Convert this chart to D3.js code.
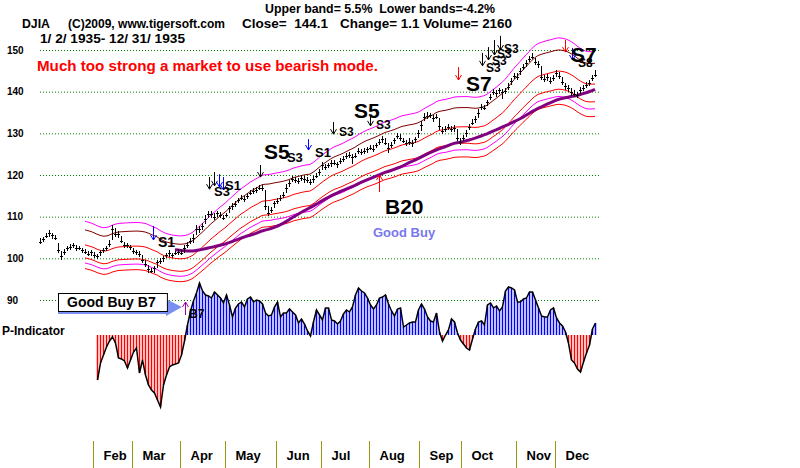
<!DOCTYPE html>
<html>
<head>
<meta charset="utf-8">
<script src="https://cdn.jsdelivr.net/npm/d3@7"></script>
<style>
  body { margin: 0; background: #fff; }
  svg { display: block; font-family: "Liberation Sans", Arial, sans-serif; font-weight: bold; }
</style>
</head>
<body>
<svg id="chart" width="800" height="468"></svg>
<script>
// ── Data (DJIA 1935, one point per bar) ──
const closes = [
  104.0,104.6,105.3,106.0,105.5,105.0,102.0,100.5,101.6,102.4,
  102.8,103.2,102.6,102.4,102.0,101.6,101.0,101.4,100.8,100.5,
  101.4,102.0,102.4,103.5,107.0,105.8,105.8,104.2,103.2,103.1,
  102.7,101.8,101.5,101.0,99.6,98.7,97.5,97.0,97.6,99.2,
  99.3,100.0,100.7,101.2,100.8,101.3,101.5,101.3,102.6,103.2,
  104.2,105.0,107.0,107.0,107.8,109.5,110.6,110.6,110.0,110.8,
  110.5,109.8,110.5,112.0,112.5,113.0,114.0,114.5,114.2,115.0,
  115.8,116.2,116.5,117.0,116.8,112.5,111.0,111.5,113.2,113.8,
  114.5,115.2,117.0,118.0,119.0,118.9,118.5,119.3,119.0,118.7,
  118.4,119.0,119.8,120.8,122.3,122.0,122.3,122.8,123.0,122.6,
  123.3,123.9,124.5,124.8,124.2,124.6,125.8,125.5,125.7,126.2,
  126.5,126.3,127.2,128.0,128.6,127.8,126.6,127.3,128.3,129.3,
  129.0,128.2,127.8,128.0,127.6,128.6,130.0,132.0,134.0,134.2,
  134.3,133.6,134.0,131.8,130.6,131.0,131.6,131.0,131.2,129.0,
  128.0,128.8,130.2,131.6,132.6,133.4,135.0,136.3,136.2,137.4,
  138.7,139.8,139.6,140.3,139.8,140.2,141.2,142.6,143.8,143.6,
  145.0,145.8,146.8,147.8,148.4,147.2,146.6,143.6,143.1,143.4,
  142.6,143.2,144.4,143.8,142.4,141.4,140.8,140.0,139.5,139.2,
  140.3,140.9,141.6,142.2,143.2,144.1
];

// how far each bar reaches above / below its close
const barUp = [
  0.8,0.6,0.9,0.7,0.6,0.5,1.8,1.2,0.6,0.5,
  0.6,0.5,0.7,0.6,0.5,0.6,0.8,0.5,0.7,0.6,
  0.5,0.6,0.5,0.9,1.0,1.4,0.8,1.2,0.7,0.6,
  0.5,0.8,0.6,0.7,1.2,0.9,0.8,0.7,0.6,0.5,
  0.8,0.6,0.5,0.7,0.6,0.5,0.7,0.6,0.5,0.7,
  0.6,0.8,0.9,0.7,0.8,0.9,0.7,0.8,0.9,0.6,
  0.7,0.6,0.5,0.6,0.8,0.7,0.6,0.8,0.7,0.6,
  0.7,0.8,0.6,0.7,0.8,4.0,1.5,0.9,0.6,0.7,
  0.6,0.8,0.9,0.7,0.8,0.6,0.9,0.6,0.7,0.8,
  0.6,0.7,0.8,0.6,0.9,0.7,0.6,0.8,0.7,0.6,
  0.8,0.6,0.7,0.8,0.9,0.7,0.6,0.8,0.7,0.6,
  0.7,0.8,0.6,0.7,0.8,1.0,1.2,0.7,0.6,0.8,
  0.9,0.7,0.6,0.8,0.7,0.6,0.8,0.9,0.8,0.9,
  0.7,0.8,0.7,2.0,1.0,0.8,0.7,0.8,0.9,2.0,
  0.9,0.8,0.7,0.6,0.8,0.7,0.9,0.8,0.7,0.6,
  0.8,0.9,0.7,0.6,0.8,0.7,0.9,0.6,0.8,0.9,
  0.7,0.8,0.9,0.8,0.9,1.0,0.8,2.5,1.0,0.8,
  0.9,0.8,0.7,0.9,1.2,0.8,0.7,0.8,0.9,0.7,
  0.8,0.7,0.8,0.6,0.9,1.0
];
const barDn = [
  0.6,0.7,0.5,0.8,0.9,0.7,0.6,0.8,0.9,0.6,
  0.7,0.6,0.8,0.5,0.7,0.6,0.5,0.8,0.6,0.7,
  0.8,0.6,0.7,0.8,2.5,0.7,0.9,0.6,0.8,0.7,
  0.6,0.7,0.8,0.6,0.7,0.8,0.9,0.6,1.0,1.4,
  0.7,0.8,0.6,0.9,0.7,0.6,0.8,0.6,1.2,0.7,
  0.8,1.2,1.5,0.8,0.9,1.2,0.9,0.8,0.7,0.9,
  0.8,0.7,0.6,1.0,0.8,0.7,0.8,0.6,0.7,0.8,
  0.6,0.7,0.8,0.6,0.7,0.9,0.8,0.6,1.0,0.7,
  0.8,0.6,1.2,0.8,0.7,0.8,0.6,0.7,0.8,0.6,
  0.7,0.8,0.6,0.9,1.0,0.7,0.6,0.8,0.7,0.9,
  0.7,0.8,0.6,0.7,1.5,0.6,0.8,0.7,0.6,0.8,
  0.6,0.7,0.8,0.9,0.8,0.7,1.2,0.8,0.9,0.7,
  0.8,0.6,0.9,0.7,0.8,0.9,1.2,1.5,1.0,0.8,
  0.7,0.8,0.6,0.9,0.8,0.7,0.8,0.6,0.9,0.8,
  0.9,0.7,1.0,0.8,0.7,0.9,1.2,0.8,0.7,0.9,
  0.8,0.7,0.8,0.9,1.5,0.7,0.8,0.9,0.7,0.8,
  0.9,0.7,0.8,0.7,0.6,0.8,0.9,0.7,0.8,0.9,
  0.8,0.7,0.9,0.8,0.7,0.9,0.8,1.0,0.7,0.8,
  0.9,0.7,0.6,0.8,0.7,0.6
];

// P-Indicator, same bars (null before it starts)
const pInd = [
  null,null,null,null,null,null,null,null,null,null,
  null,null,null,null,null,null,null,null,null,-45,
  -28,-20,-12,-6,-2,-8,-23,-24,-26,-33,
  -25,-17,-13,-38,-25,-40,-50,-55,-58,-65,
  -72,-50,-40,-32,-30,-29,-28,-20,-6,10,
  24,34,42,52,44,40,39,37,43,40,
  37,32,40,30,18,27,31,33,28,36,
  38,33,35,34,31,22,19,20,28,33,
  18,22,22,26,23,20,12,16,11,4,
  -1,13,25,20,15,27,27,15,14,11,
  14,21,25,23,28,40,47,44,42,37,
  30,26,30,37,38,40,31,24,19,26,
  27,8,10,12,13,13,25,31,26,18,
  14,13,22,3,-6,0,5,16,13,2,
  -5,-9,-13,-15,-4,6,13,14,10,30,
  32,27,29,24,28,44,48,47,45,33,
  33,36,37,43,43,35,27,19,18,18,
  25,27,17,12,9,3,-8,-25,-28,-34,
  -37,-27,-18,-10,6,12
];

const priceTicks = [90, 100, 110, 120, 130, 140, 150];
const monthNames = ['Feb','Mar','Apr','May','Jun','Jul','Aug','Sep','Oct','Nov','Dec'];
const monthStart = [18, 31, 47, 62, 79, 94, 110, 127, 141, 159, 172];

const shortWin = 16;   // 21-day average, in bars
const longWin = 46;    // 65-day average, in bars
const bandLevels = [0.945, 0.958, 0.97, 1.0, 1.035, 1.055];
const bandColors = ['#ff0000', '#ff00ff', '#ff0000', '#ff0000', '#800000', '#ff00ff'];

// signals: [bar, price, label, size]
const signalTexts = [
  [39.3, 102.7, 'S1', 14], [58, 115.0, 'S3', 13], [61.7, 116.4, 'S1', 13],
  [74.7, 123.8, 'S5', 21], [82.3, 123.1, 'S3', 13], [91.7, 124.3, 'S1', 13],
  [99.7, 129.4, 'S3', 12], [104.7, 133.7, 'S5', 21], [112, 131.0, 'S3', 12],
  [142, 140.2, 'S7', 21], [148.7, 144.7, 'S3', 12], [150.7, 146.4, 'S3', 12],
  [152.3, 148.1, 'S3', 12], [154.7, 149.3, 'S3', 12],
  [177, 147.1, 'S7', 21], [179.3, 145.9, 'S8', 12],
  [115, 110.6, 'B20', 21]
];
// arrows: [bar, tail price, tip price, colour]
const signalArrows = [
  [37.7, 107.8, 104.4, '#0000ff'],
  [56.3, 119.5, 116.6, '#000'], [58, 120.7, 117.4, '#000'],
  [59.7, 120.2, 117.1, '#0000ff'], [61, 119.5, 116.4, '#0000ff'],
  [73.3, 122.4, 119.5, '#000'], [89.3, 128.6, 126.0, '#0000ff'],
  [97.7, 132.7, 129.8, '#000'], [110, 134.4, 131.8, '#000'],
  [139.3, 145.9, 142.8, '#ff0000'],
  [147.3, 149.3, 146.2, '#000'], [149.3, 150.7, 147.6, '#000'],
  [151.3, 152.4, 148.8, '#000'], [153.3, 153.4, 150.0, '#000'],
  [175, 152.4, 149.5, '#ff0000'], [177.3, 150.5, 147.6, '#0000ff'],
  [113, 115.9, 120.0, '#ff0000']
];

// ── Scales ──
const svg = d3.select('#chart');
const x  = d3.scaleLinear().domain([0, closes.length - 1]).range([40, 595]);
const y  = d3.scaleLinear().domain([90, 150]).range([300, 50]);
const pY = d3.scaleLinear().domain([-80, 60]).range([415, 275]);

function movingAvg(arr, w) {
  return arr.map((_, i) => i < w - 1 ? null : d3.mean(arr.slice(i - w + 1, i + 1)));
}

// ── Header ──
const header = [
  { t: 'Upper band= 5.5%  Lower bands=-4.2%', x: 265, y: 13, len: 230 },
  { t: 'DJIA', x: 22, y: 28, len: 28 },
  { t: '(C)2009, www.tigersoft.com', x: 68, y: 28, len: 157 },
  { t: 'Close=  144.1', x: 242, y: 28, len: 86 },
  { t: 'Change= 1.1 Volume= 2160', x: 340, y: 28, len: 172 },
  { t: '1/ 2/ 1935- 12/ 31/ 1935', x: 40, y: 43, len: 145 }
];
header.forEach(h => {
  svg.append('text').attr('x', h.x).attr('y', h.y)
    .attr('textLength', h.len).attr('lengthAdjust', 'spacingAndGlyphs')
    .attr('xml:space', 'preserve')
    .style('font-size', '13px').text(h.t);
});
svg.append('text').attr('x', 37).attr('y', 71)
  .attr('textLength', 341).attr('lengthAdjust', 'spacingAndGlyphs')
  .attr('fill', '#ff0000').style('font-size', '15px')
  .text('Much too strong a market to use bearish mode.');

// ── Grid + price labels ──
const yAxis = svg.append('g').attr('transform', 'translate(40,0)')
  .attr('font-family', null).attr('font-size', 14)
  .call(d3.axisLeft(y).tickValues(priceTicks).tickSize(-560).tickFormat(d3.format('d')));
yAxis.select('.domain').remove();
yAxis.selectAll('line').attr('stroke', '#008000').attr('stroke-dasharray', '1,2');
yAxis.selectAll('text').attr('x', -33).attr('text-anchor', 'start').attr('fill', '#000');

// ── Moving average bands ──
const ma = movingAvg(closes, shortWin);
const maLong = movingAvg(closes, longWin);
const line = d3.line().defined(d => d != null).x((d, i) => x(i)).y(d => y(d));

bandLevels.forEach((k, j) => {
  svg.append('path')
    .datum(ma.map(v => v == null ? null : v * k))
    .attr('fill', 'none').attr('stroke', bandColors[j]).attr('stroke-width', 1)
    .attr('d', line);
});
svg.append('path').datum(maLong)
  .attr('fill', 'none').attr('stroke', '#800080').attr('stroke-width', 3)
  .attr('d', line);

// ── Price bars ──
const bars = svg.append('g').attr('stroke', '#000').attr('shape-rendering', 'crispEdges');
closes.forEach((c, i) => {
  const xi = Math.round(x(i)) + 0.5;
  bars.append('line').attr('x1', xi).attr('x2', xi)
    .attr('y1', y(c + barUp[i])).attr('y2', y(c - barDn[i]));
  bars.append('line').attr('x1', xi - 1.5).attr('x2', xi + 1.5)
    .attr('y1', Math.round(y(c)) + 0.5).attr('y2', Math.round(y(c)) + 0.5);
});

// ── Signals ──
function arrow(g, xp, y1, y2, color) {
  const dir = y2 > y1 ? 1 : -1;
  g.append('path')
    .attr('d', `M${xp},${y1}V${y2}M${xp - 3},${y2 - dir * 5}L${xp},${y2}L${xp + 3},${y2 - dir * 5}`)
    .attr('stroke', color).attr('fill', 'none').attr('stroke-width', 1);
}
const sig = svg.append('g');
signalArrows.forEach(a => arrow(sig, Math.round(x(a[0])) + 0.5, y(a[1]), y(a[2]), a[3]));
signalTexts.forEach(s => {
  sig.append('text').attr('x', x(s[0])).attr('y', y(s[1]))
    .style('font-size', s[3] + 'px').text(s[2]);
});
svg.append('text').attr('x', x(111)).attr('y', y(105.1))
  .attr('fill', '#7878ee').style('font-size', '13px').text('Good Buy');

// ── P-Indicator ──
const pg = svg.append('g');
pInd.forEach((v, i) => {
  if (v == null) return;
  pg.append('line')
    .attr('x1', x(i) + 0.5).attr('x2', x(i) + 0.5)
    .attr('y1', pY(0)).attr('y2', pY(v))
    .attr('stroke', v >= 0 ? '#0000ff' : '#ff0000').attr('stroke-width', 1.5);
});
pg.append('path').datum(pInd)
  .attr('fill', 'none').attr('stroke', '#000').attr('stroke-width', 1.5)
  .attr('d', d3.line().defined(d => d != null).x((d, i) => x(i) + 0.5).y(d => pY(d)));

svg.append('text').attr('x', 2).attr('y', 335).style('font-size', '12px').text('P-Indicator');

// Good Buy B7 box and arrow
svg.append('path')
  .attr('d', `M${x(6)},${pY(26)}H${x(42)}V${pY(36)}L${x(47.3)},${pY(28)}L${x(42)},${pY(19)}V${pY(21)}H${x(6)}Z`)
  .attr('fill', '#7b8ef2');
svg.append('rect')
  .attr('x', x(6) + 0.5).attr('y', pY(42) + 0.5)
  .attr('width', x(42.3) - x(6)).attr('height', pY(24) - pY(42))
  .attr('fill', '#fff').attr('stroke', '#000');
svg.append('text').attr('x', x(9)).attr('y', pY(28))
  .style('font-size', '14px').text('Good Buy B7');
arrow(svg, Math.round(x(48.3)) + 0.5, pY(20), pY(33), '#a000a0');
svg.append('text').attr('x', x(49.7)).attr('y', pY(17))
  .style('font-size', '12px').text('B7');

// ── Month axis ──
const months = svg.append('g');
monthStart.forEach((m, j) => {
  const xd = Math.round(x(m) - 1.5) + 0.5;
  months.append('line').attr('x1', xd).attr('x2', xd).attr('y1', 441).attr('y2', 468)
    .attr('stroke', '#9a9a10');
  months.append('text').attr('x', xd + 10).attr('y', 460)
    .style('font-size', '13px').text(monthNames[j]);
});
</script>
</body>
</html>
